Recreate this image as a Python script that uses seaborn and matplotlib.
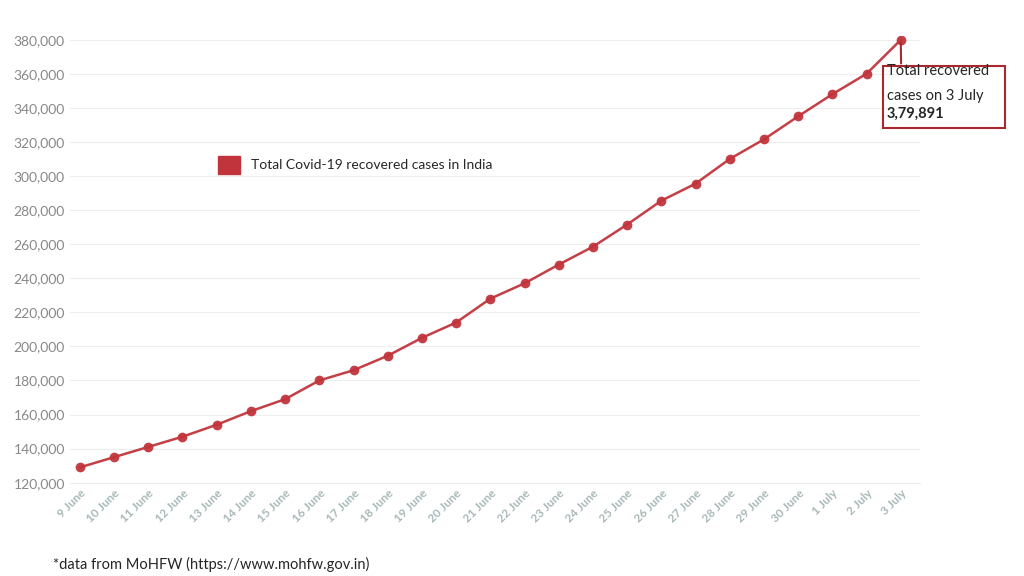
import matplotlib
matplotlib.use("Agg")
import matplotlib.pyplot as plt
import matplotlib.patches as mpatches
import seaborn as sns
import pandas as pd

dates = ["9 June", "10 June", "11 June", "12 June", "13 June", "14 June", "15 June",
         "16 June", "17 June", "18 June", "19 June", "20 June", "21 June", "22 June",
         "23 June", "24 June", "25 June", "26 June", "27 June", "28 June", "29 June",
         "30 June", "1 July", "2 July", "3 July"]
recovered = [129000, 135000, 141000, 147000, 154000, 162000, 169000, 180000, 186000,
             194500, 205000, 214000, 228000, 237000, 248000, 258500, 271500, 285500,
             295500, 310000, 321500, 335000, 348000, 360000, 379891]

df = pd.DataFrame({"date": dates, "recovered": recovered, "i": range(len(dates))})
red = "#c1343c"

sns.set_style("white")
plt.rcParams['font.family'] = ['Lato', 'DejaVu Sans']
fig = plt.figure(figsize=(10.24, 5.76), dpi=100)
ax = fig.add_axes([0.068, 0.162, 0.83, 0.775])

sns.lineplot(data=df, x="i", y="recovered", color=red, linewidth=1.8, ax=ax,
             marker="o", markersize=7, markeredgewidth=0, alpha=0.95)

ax.set_ylim(120000, 382000)
ax.set_xlim(-0.3, 24.55)
ax.set_yticks(range(120000, 380001, 20000))
ax.set_yticklabels([f"{v:,}" for v in range(120000, 380001, 20000)], color="#888888", fontsize=10)
ax.set_xticks(df["i"])
ax.set_xticklabels(dates, rotation=45, ha="right", rotation_mode="anchor",
                   color="#a8b8b8", fontsize=8.5, fontweight="bold")
ax.grid(axis="y", color="#eeeeee", linewidth=0.8)
for s in ["top", "right", "left"]:
    ax.spines[s].set_visible(False)
ax.spines["bottom"].set_color("#eeeeee")
ax.tick_params(length=0)
ax.set_xlabel("")
ax.set_ylabel("")

handle = mpatches.Patch(color=red, label="Total Covid-19 recovered cases in India")
ax.legend(handles=[handle], loc="upper left", bbox_to_anchor=(0.16, 0.76), frameon=False,
          fontsize=10, handlelength=1.6, handleheight=1.6)

# callout box
fig.text(0.866, 0.877, "Total recovered", fontsize=10.5, va="center")
fig.text(0.866, 0.834, "cases on 3 July", fontsize=10.5, va="center")
fig.text(0.866, 0.802, "3,79,891", fontsize=10.5, va="center", fontweight="bold")
box = mpatches.Rectangle((0.862, 0.778), 0.119, 0.107, transform=fig.transFigure,
                         fill=False, edgecolor="#a8282e", linewidth=1.5)
fig.add_artist(box)
ax.annotate("", xy=(24, 379891), xytext=(0.88, 0.885), textcoords="figure fraction",
            arrowprops=dict(arrowstyle="-", color="#a8282e", lw=1.5))

fig.text(0.052, 0.012, "*data from MoHFW (https://www.mohfw.gov.in)", fontsize=10.5)
fig.savefig("out.png", dpi=100)
